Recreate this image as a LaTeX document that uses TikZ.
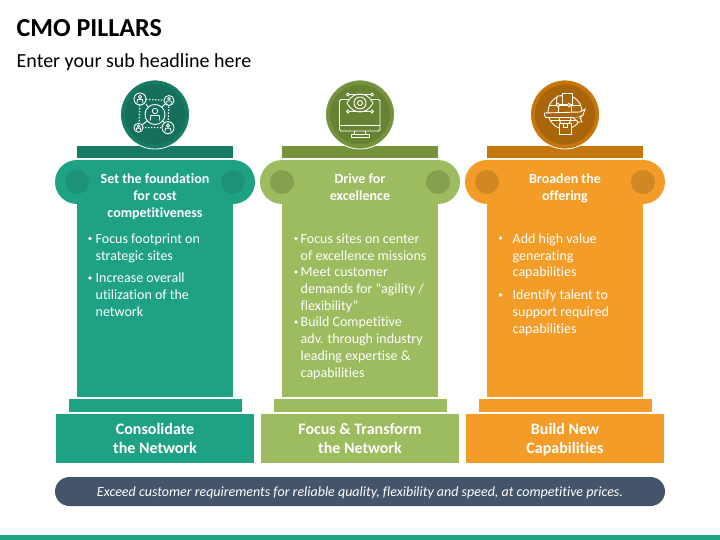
\documentclass[tikz,border=0pt]{standalone}
\usepackage{fontspec}
\setmainfont{Carlito}[Ligatures=NoCommon]
\definecolor{tealA}{HTML}{1FA283}
\definecolor{tealB}{HTML}{177A63}
\definecolor{tealC}{HTML}{166F5A}
\definecolor{tealD}{HTML}{1E9276}
\definecolor{greenA}{HTML}{9DBB5F}
\definecolor{greenB}{HTML}{76923C}
\definecolor{greenC}{HTML}{688234}
\definecolor{greenD}{HTML}{85A04F}
\definecolor{orangeA}{HTML}{F39C27}
\definecolor{orangeB}{HTML}{C6770B}
\definecolor{orangeC}{HTML}{A86509}
\definecolor{orangeD}{HTML}{CF8823}
\definecolor{slatebar}{HTML}{44546A}
\newcommand{\topstrut}{\rule{0pt}{10pt}}
\tikzset{
  headtxt/.style={text=white,align=center,inner sep=0pt,anchor=north,font=\fontsize{14}{17}\selectfont\bfseries},
  basetxt/.style={text=white,align=center,inner sep=0pt,anchor=north,font=\fontsize{16}{19}\selectfont\bfseries},
  bodytxt/.style={text=white,align=left,inner sep=0pt,anchor=north west,font=\fontsize{14}{16.8}\selectfont},
  bulletdot/.style={circle,fill=white,inner sep=0pt,minimum size=3.6pt},
  iconline/.style={draw=white,line width=0.9pt},
  dotline/.style={draw=white,line width=1.2pt,dash pattern=on 1.3pt off 1.7pt},
}
% #1 left of capital, #2 light, #3 bar, #4 inner, #5 volute, #6 name
\newcommand{\pillar}[6]{%
  \fill[#2] (#1+22,204) rectangle (#1+178,397);
  \fill[#2] (#1+13.5,399) rectangle (#1+186.7,412);
  \fill[#2] (#1+1,414) rectangle (#1+199,463);
  \fill[#3] (#1+22,146) rectangle (#1+178,158);
  \fill[#2,rounded corners=22pt] (#1,160) rectangle (#1+200,204);
  \fill[#5] (#1+22,182) circle (12);
  \fill[#5] (#1+178,182) circle (12);
  \node[circle,fill=#3,draw=white,line width=0.8pt,minimum size=69pt,inner sep=0pt] (#6ring) at (#1+100,114.5) {};
  \node[circle,fill=#4,minimum size=60pt,inner sep=0pt] (#6core) at (#1+100,114.5) {};
}
\newcommand{\person}[3]{% x y r
  \draw[iconline,fill=tealC] (#1,#2) circle (#3);
  \draw[iconline,line width=0.8pt] (#1,#2-0.35*#3) circle (0.27*#3);
  \draw[iconline,line width=0.8pt] (#1-0.48*#3,#2+0.62*#3) -- (#1-0.42*#3,#2+0.1*#3) -- (#1+0.42*#3,#2+0.1*#3) -- (#1+0.48*#3,#2+0.62*#3);
}
\begin{document}
\begin{tikzpicture}[x=1pt,y=-1pt]
\useasboundingbox (0,0) rectangle (720,540);
\node[anchor=base west,inner sep=0pt,font=\fontsize{26}{30}\selectfont\bfseries] (title) at (16.5,36.5) {CMO PILLARS};
\node[anchor=base west,inner sep=0pt,font=\fontsize{20}{24}\selectfont] (subtitle) at (16.5,67.5) {Enter your sub headline here};

\pillar{55}{tealA}{tealB}{tealC}{tealD}{a}
\pillar{260}{greenA}{greenB}{greenC}{greenD}{b}
\pillar{465}{orangeA}{orangeB}{orangeC}{orangeD}{c}

% icon 1: network of people
\draw[dotline] (140,99) -- (169,100.5) (140,99) -- (139,127.5) (139,127.5) -- (168,127.5) (169,100.5) -- (168,127.5);
\draw[iconline] (148,107) -- (146,104) (162,107) -- (165,104) (147,121) -- (142,125) (163,121) -- (165,123);
\person{155}{114.5}{10}
\person{140}{99}{6}
\person{169}{100.5}{5}
\person{138.5}{127.7}{4.5}
\person{168}{127.7}{6}

% icon 2: monitor with eye
\draw[iconline,rounded corners=1.5pt] (339.5,99.5) rectangle (380,131);
\draw[iconline] (339.5,125.5) -- (380,125.5);
\draw[iconline] (355,131) -- (354,134.5) -- (366,134.5) -- (365,131);
\draw[iconline] (351,134.5) rectangle (369,137.5);
\draw[iconline,fill=greenC] (347,103) .. controls (353,91) and (367,91) .. (373,103) .. controls (367,115) and (353,115) .. (347,103) -- cycle;
\draw[iconline] (360,103) circle (6);
\draw[iconline] (360,103) circle (2.5);
\draw[iconline] (348,94.5) -- (372,94.5) (348,111.5) -- (372,111.5);
\foreach \px/\py in {348/94.5,372/94.5,348/111.5,372/111.5}
  \draw[iconline,fill=greenC] (\px,\py) circle (1.5);

% icon 3: globe with truck, plane and parcel
\draw[iconline] (565,112) circle (17);
\draw[iconline] (565,95) .. controls (556,103) and (556,121) .. (565,129) (565,95) .. controls (574,103) and (574,121) .. (565,129);
\draw[iconline] (549.5,105) -- (580.5,105) (549.5,120) -- (580.5,120);
\draw[iconline,fill=orangeC] (562,93.5) rectangle (572,104.5);
\draw[iconline,fill=orangeC] (562,96) -- (557.5,96) -- (556.5,100) -- (556.5,104.5) -- (562,104.5);
\draw[iconline,fill=orangeC] (558,105) circle (1.7);
\draw[iconline,fill=orangeC] (569,105) circle (1.7);
\draw[iconline,fill=orangeC] (544.5,113) -- (580,112) -- (585,109) -- (583,115) -- (578,117.5) -- (546,117.5) -- (544.5,115.5) -- cycle;
\draw[iconline,fill=orangeC] (573,117.5) -- (578,122) -- (582,122) -- (580,117.5);
\draw[iconline,fill=orangeC] (559.5,123.5) rectangle (571,134.5);
\draw[iconline] (563.5,123.5) -- (563.5,127.5) -- (567,127.5) -- (567,123.5);

% capital headings
\node[headtxt] (ah) at (155,173.5) {\topstrut Set the foundation\\for cost\\competitiveness};
\node[headtxt] (bh) at (360,173.5) {\topstrut Drive for\\excellence};
\node[headtxt] (ch) at (565,173.5) {\topstrut Broaden the\\offering};

% column 1 text
\node[bulletdot] (a1d) at (90,238.5) {};
\node[bodytxt] (a1) at (95.5,233) {\topstrut Focus footprint on\\strategic sites};
\node[bulletdot] (a2d) at (90,278) {};
\node[bodytxt] (a2) at (95.5,272.5) {\topstrut Increase overall\\utilization of the\\network};

% column 2 text
\node[bulletdot] (b1d) at (296,238.5) {};
\node[bodytxt] (b1) at (300.5,233) {\topstrut Focus sites on center\\of excellence missions};
\node[bulletdot] (b2d) at (296,272) {};
\node[bodytxt] (b2) at (300.5,266.5) {\topstrut Meet customer\\demands for “agility /\\flexibility”};
\node[bulletdot] (b3d) at (296,322) {};
\node[bodytxt] (b3) at (300.5,316.5) {\topstrut Build Competitive\\adv. through industry\\leading expertise \&\\capabilities};

% column 3 text
\node[bulletdot] (c1d) at (500.5,238) {};
\node[bodytxt] (c1) at (512.5,233) {\topstrut Add high value\\generating\\capabilities};
\node[bulletdot] (c2d) at (500.5,295) {};
\node[bodytxt] (c2) at (512.5,289.5) {\topstrut Identify talent to\\support required\\capabilities};

% base labels
\node[basetxt] (at) at (155,422) {\rule{0pt}{12pt}Consolidate\\the Network};
\node[basetxt] (bt) at (360,422) {\rule{0pt}{12pt}Focus \& Transform\\the Network};
\node[basetxt] (ct) at (565,422) {\rule{0pt}{12pt}Build New\\Capabilities};

% banner
\fill[slatebar,rounded corners=14.5pt] (55,477) rectangle (665,506);
\node[text=white,inner sep=0pt,anchor=base,font=\fontsize{14}{17}\selectfont\itshape] (banner) at (360,496) {Exceed customer requirements for reliable quality, flexibility and speed, at competitive prices.};

% bottom strip
\fill[tealA] (0,535) rectangle (720,540);
\end{tikzpicture}
\end{document}
